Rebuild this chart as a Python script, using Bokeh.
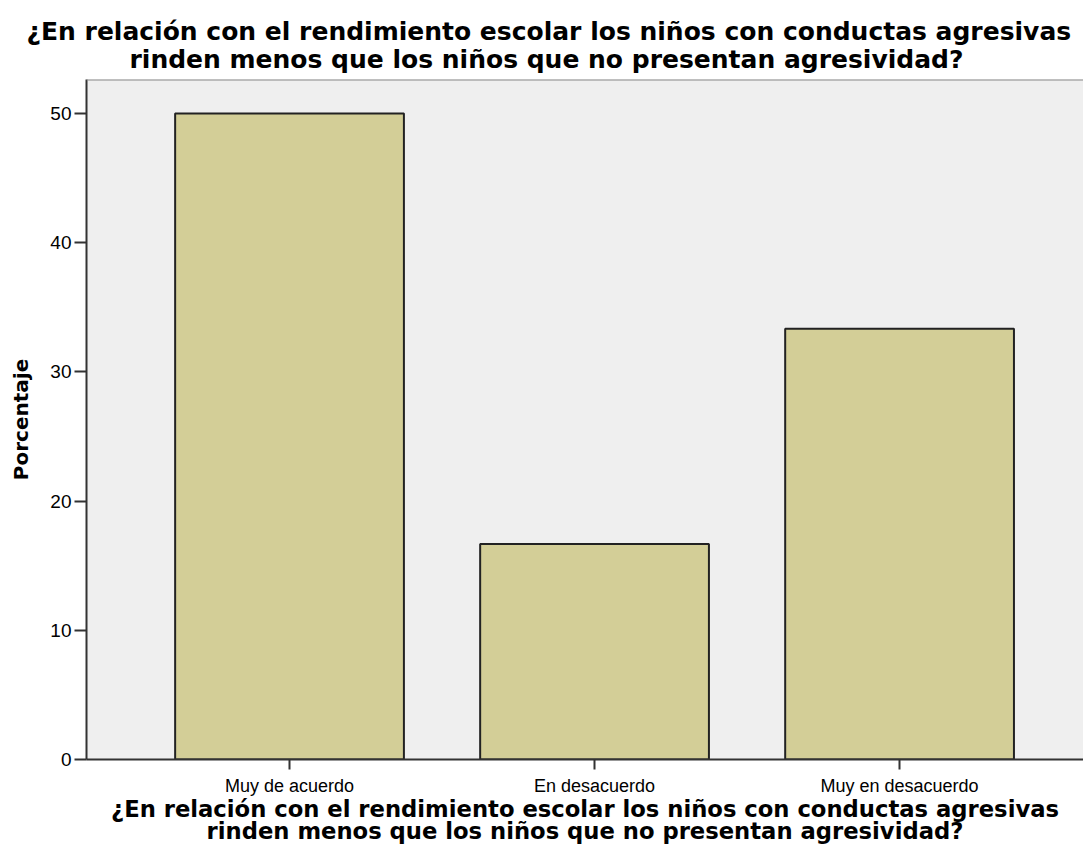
from bokeh.plotting import figure
from bokeh.models import Range1d, FixedTicker, Span, Title
from bokeh.embed import file_html
from bokeh.resources import INLINE

categories = ["Muy de acuerdo", "En desacuerdo", "Muy en desacuerdo"]
percentages = [50.0, 16.67, 33.33]
y_ticks = [0, 10, 20, 30, 40, 50]
question_l1 = "¿En relación con el rendimiento escolar los niños con conductas agresivas"
question_l2 = "rinden menos que los niños que no presentan agresividad?"
y_label = "Porcentaje"

xs = list(range(len(categories)))

p = figure(width=1083, height=858, output_backend="svg", toolbar_location=None,
           x_range=Range1d(-0.6656, 2.603), y_range=Range1d(0, 52.63))
p.min_border_left = 86
p.min_border_right = 0
p.min_border_top = 79
p.min_border_bottom = 99
p.background_fill_color = "#EFEFEF"
p.border_fill_color = "white"
p.outline_line_color = None
p.xgrid.grid_line_color = None
p.ygrid.grid_line_color = None

p.vbar(x=xs, top=percentages, bottom=0, width=0.75,
       fill_color="#D3CE97", line_color="#222222", line_width=2)

# chart title: line 1 is the figure title, line 2 sits just above the plot
p.title.text = question_l1
p.title.align = "left"
p.title.offset = -60
p.title.standoff = -17
p.title.text_font = "DejaVu Sans"
p.title.text_font_style = "bold"
p.title.text_font_size = "25px"
p.title.text_color = "black"
t2 = Title(text=question_l2, align="left", offset=43, standoff=11,
           text_font="DejaVu Sans", text_font_style="bold",
           text_font_size="25px", text_color="black")
p.add_layout(t2, "above")

# top border of the plot area
p.add_layout(Span(location=p.y_range.end, dimension="width",
                  line_color="#888888", line_width=2))

xa = p.below[0]
xa.ticker = FixedTicker(ticks=xs)
xa.major_label_overrides = {i: c for i, c in zip(xs, categories)}
xa.major_label_text_font = "Liberation Sans"
xa.major_label_text_font_size = "18px"
xa.major_label_text_color = "black"
xa.major_label_standoff = 6
xa.major_tick_out = 10
xa.major_tick_in = 0
xa.minor_tick_line_color = None
xa.axis_line_width = 2
xa.axis_line_color = "#333333"
xa.major_tick_line_color = "#333333"
xa.major_tick_line_width = 2
xa.axis_label = question_l1 + "\n" + question_l2
xa.axis_label_text_font = "DejaVu Sans"
xa.axis_label_text_font_style = "bold"
xa.axis_label_text_font_size = "22.7px"
xa.axis_label_text_line_height = 0.86
xa.axis_label_text_color = "black"
xa.axis_label_standoff = -3

ya = p.left[0]
ya.ticker = FixedTicker(ticks=y_ticks)
ya.major_label_text_font = "Liberation Sans"
ya.major_label_text_font_size = "19px"
ya.major_label_text_color = "black"
ya.major_label_standoff = 3
ya.major_tick_out = 12
ya.major_tick_in = 0
ya.minor_tick_line_color = None
ya.axis_line_width = 2
ya.axis_line_color = "#333333"
ya.major_tick_line_color = "#333333"
ya.major_tick_line_width = 2
ya.axis_label = y_label
ya.axis_label_text_font = "DejaVu Sans"
ya.axis_label_text_font_style = "bold"
ya.axis_label_text_font_size = "20px"
ya.axis_label_text_color = "black"
ya.axis_label_standoff = 14

open("out.html", "w").write(file_html(p, INLINE))
